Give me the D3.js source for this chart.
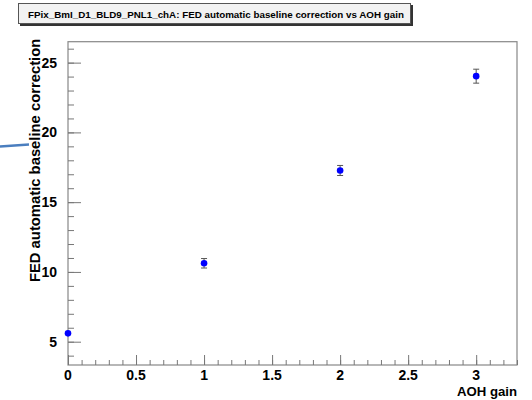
<!DOCTYPE html>
<html>
<head>
<meta charset="utf-8">
<script src="https://cdn.jsdelivr.net/npm/d3@7"></script>
<style>
  body { margin: 0; background: #fff; }
  svg { display: block; font-family: "Liberation Sans", Arial, sans-serif; }
</style>
</head>
<body>
<svg width="532" height="400"></svg>
<script>
// Data
const gains = [0, 1, 2, 3];
const baseline = [5.6, 10.62, 17.27, 24.03];
const errors = [0.08, 0.34, 0.36, 0.5];
const xMajor = [0, 0.5, 1, 1.5, 2, 2.5, 3];
const yMajor = [5, 10, 15, 20, 25];
const title = "FPix_BmI_D1_BLD9_PNL1_chA: FED automatic baseline correction vs AOH gain";

const svg = d3.select("svg");
const fLeft = 68, fRight = 517, fTop = 41.7, fBottom = 365;

const x = d3.scaleLinear().domain([0, 3.3]).range([fLeft, fRight]);
const y = d3.scaleLinear().domain([3.33, 26.5]).range([fBottom, fTop]);

// Title box with shadow
svg.append("rect").attr("x", 20).attr("y", 5).attr("width", 393).attr("height", 21).attr("fill", "#333");
svg.append("rect").attr("x", 18.5).attr("y", 3.5).attr("width", 392).attr("height", 20)
  .attr("fill", "#f2f2f2").attr("stroke", "#555").attr("stroke-width", 1);
svg.append("text").attr("x", 216).attr("y", 17.5).attr("text-anchor", "middle")
  .attr("font-size", 9.8).attr("font-weight", "bold").text(title);

// Frame
svg.append("rect").attr("x", fLeft).attr("y", fTop).attr("width", fRight - fLeft).attr("height", fBottom - fTop)
  .attr("fill", "none").attr("stroke", "#888").attr("stroke-width", 1.2);

// X axis ticks (inward)
const xAxisG = svg.append("g").attr("transform", `translate(0,${fBottom})`);
xAxisG.call(d3.axisBottom(x).tickValues(d3.range(0, 3.31, 0.1)).tickSize(-5).tickFormat(""));
xAxisG.append("g").call(d3.axisBottom(x).tickValues(xMajor).tickSize(-10).tickFormat(""));
xAxisG.selectAll(".domain").remove();
xAxisG.selectAll("line").attr("stroke", "#777");

svg.append("g").selectAll("text").data(xMajor).join("text")
  .attr("x", d => x(d)).attr("y", 380).attr("text-anchor", "middle")
  .attr("font-size", 14).attr("font-weight", "bold").text(d => d);

// Y axis ticks (inward)
const yAxisG = svg.append("g").attr("transform", `translate(${fLeft},0)`);
yAxisG.call(d3.axisLeft(y).tickValues(d3.range(4, 27, 1)).tickSize(-6).tickFormat(""));
yAxisG.append("g").call(d3.axisLeft(y).tickValues(yMajor).tickSize(-13).tickFormat(""));
yAxisG.selectAll(".domain").remove();
yAxisG.selectAll("line").attr("stroke", "#777");

svg.append("g").selectAll("text").data(yMajor).join("text")
  .attr("x", 57).attr("y", d => y(d) + 5).attr("text-anchor", "end")
  .attr("font-size", 14).attr("font-weight", "bold").text(d => d);

// Axis titles
svg.append("text").attr("x", 517).attr("y", 395.5).attr("text-anchor", "end")
  .attr("font-size", 13.2).attr("font-weight", "bold").text("AOH gain");
svg.append("text").attr("transform", `translate(40,${fTop - 3}) rotate(-90)`).attr("text-anchor", "end")
  .attr("font-size", 14.8).attr("font-weight", "bold").text("FED automatic baseline correction");

// Stray blue stroke at left
svg.append("path").attr("d", "M0,146.5 L29,144.5")
  .attr("stroke", "#4a7ebf").attr("stroke-width", 2.5).attr("fill", "none");

// Error bars
const pts = gains.map((g, i) => ({ g, v: baseline[i], e: errors[i] }));
const eb = svg.append("g").attr("stroke", "#555").attr("stroke-width", 1);
eb.selectAll(".bar").data(pts).join("line")
  .attr("x1", d => x(d.g)).attr("x2", d => x(d.g))
  .attr("y1", d => y(d.v - d.e)).attr("y2", d => y(d.v + d.e));
eb.selectAll(".capT").data(pts.filter(d => d.e > 0.2)).join("line")
  .attr("x1", d => x(d.g) - 3).attr("x2", d => x(d.g) + 3)
  .attr("y1", d => y(d.v + d.e)).attr("y2", d => y(d.v + d.e));
eb.selectAll(".capB").data(pts.filter(d => d.e > 0.2)).join("line")
  .attr("x1", d => x(d.g) - 3).attr("x2", d => x(d.g) + 3)
  .attr("y1", d => y(d.v - d.e)).attr("y2", d => y(d.v - d.e));

// Markers
svg.append("g").selectAll("circle").data(pts).join("circle")
  .attr("cx", d => x(d.g)).attr("cy", d => y(d.v)).attr("r", 3.3)
  .attr("fill", "#0000ff");
</script>
</body>
</html>
